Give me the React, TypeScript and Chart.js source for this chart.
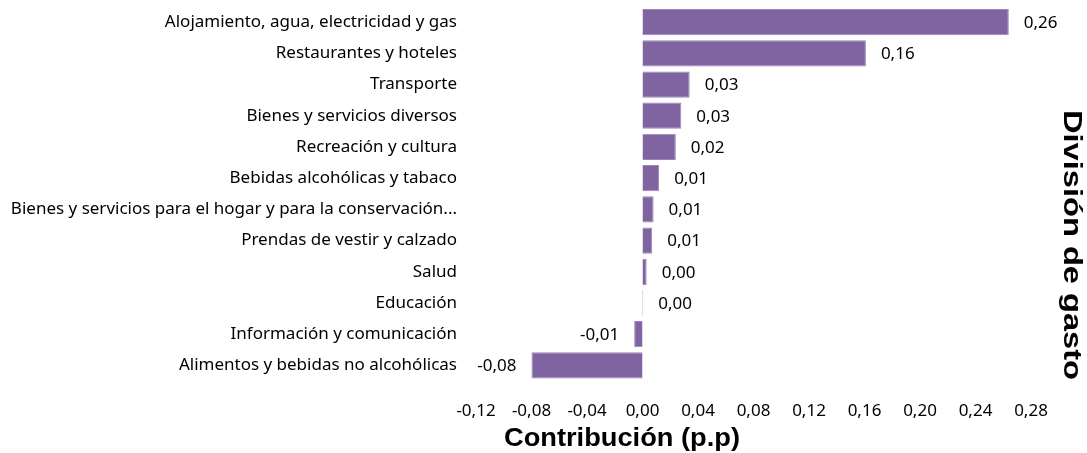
import React, { useEffect, useRef } from "react";
import { Chart, registerables } from "chart.js";

Chart.register(...registerables);

const categories = [
  "Alojamiento, agua, electricidad y gas",
  "Restaurantes y hoteles",
  "Transporte",
  "Bienes y servicios diversos",
  "Recreación y cultura",
  "Bebidas alcohólicas y tabaco",
  "Bienes y servicios para el hogar y para la conservación...",
  "Prendas de vestir y calzado",
  "Salud",
  "Educación",
  "Información y comunicación",
  "Alimentos y bebidas no alcohólicas",
];

const contributions = [0.264, 0.161, 0.034, 0.028, 0.024, 0.012, 0.008, 0.007, 0.003, 0.0005, -0.006, -0.08];

const xTitle = "Contribución (p.p)";
const yTitle = "División de gasto";

const FONT = "'Noto Sans', 'Open Sans', sans-serif";
const fmt = (v: number) => v.toFixed(2).replace(".", ",").replace("-0,00", "0,00");

const labelPlugin = {
  id: "valueLabels",
  afterDatasetsDraw(chart: any) {
    const ctx = chart.ctx;
    const meta = chart.getDatasetMeta(0);
    const data = chart.data.datasets[0].data as number[];
    ctx.save();
    ctx.font = `17px ${FONT}`;
    ctx.fillStyle = "#000";
    ctx.textBaseline = "middle";
    meta.data.forEach((bar: any, i: number) => {
      const v = data[i];
      if (v < 0) {
        ctx.textAlign = "right";
        ctx.fillText(fmt(v), bar.x - 15, bar.y + 1);
      } else {
        ctx.textAlign = "left";
        ctx.fillText(fmt(v), bar.x + 15, bar.y + 1);
      }
    });
    ctx.restore();
  },
};

const titlePlugin = {
  id: "axisTitles",
  afterDraw(chart: any) {
    const ctx = chart.ctx;
    ctx.save();
    ctx.fillStyle = "#000";
    ctx.textAlign = "center";
    ctx.textBaseline = "middle";
    ctx.font = `bold 26px 'Liberation Sans', Arial, sans-serif`;
    const w1 = ctx.measureText(xTitle).width;
    ctx.save();
    ctx.translate(622, 439);
    ctx.scale(236 / w1, 1);
    ctx.fillText(xTitle, 0, 0);
    ctx.restore();
    const w2 = ctx.measureText(yTitle).width;
    ctx.save();
    ctx.translate(1071, 245);
    ctx.rotate(Math.PI / 2);
    ctx.scale(270 / w2, 1);
    ctx.fillText(yTitle, 0, 0);
    ctx.restore();
    ctx.restore();
  },
};

export default function App() {
  const ref = useRef<HTMLCanvasElement | null>(null);
  useEffect(() => {
    document.body.style.margin = "0";
    const chart = new Chart(ref.current!, {
      type: "bar",
      data: {
        labels: categories,
        datasets: [
          {
            data: contributions,
            backgroundColor: "#8064A2",
            borderColor: "#9B85BA",
            borderWidth: 1,
            barPercentage: 0.84,
            categoryPercentage: 1,
          },
        ],
      },
      options: {
        indexAxis: "y",
        animation: false,
        responsive: false,
        maintainAspectRatio: false,
        layout: { padding: { top: 6.5, right: 56, bottom: 0, left: 0 } },
        plugins: { legend: { display: false }, tooltip: { enabled: false } },
        scales: {
          x: {
            min: -0.12,
            max: 0.28,
            grid: { display: false },
            border: { display: false },
            ticks: {
              stepSize: 0.04,
              padding: 12,
              color: "#000",
              font: { family: FONT, size: 17 },
              callback: (v: any) => fmt(Number(v)),
            },
            afterFit: (s: any) => {
              s.height = 72;
              s.paddingLeft = 0;
              s.paddingRight = 0;
            },
          },
          y: {
            grid: { display: false },
            border: { display: false },
            ticks: {
              padding: 11,
              color: "#000",
              font: { family: FONT, size: 17 },
              autoSkip: false,
            },
            afterFit: (s: any) => {
              s.width = 476;
              s.paddingTop = 0;
              s.paddingBottom = 0;
            },
          },
        },
      },
      plugins: [labelPlugin, titlePlugin],
    });
    return () => chart.destroy();
  }, []);
  return <canvas ref={ref} width={1087} height={453} style={{ display: "block" }} />;
}
